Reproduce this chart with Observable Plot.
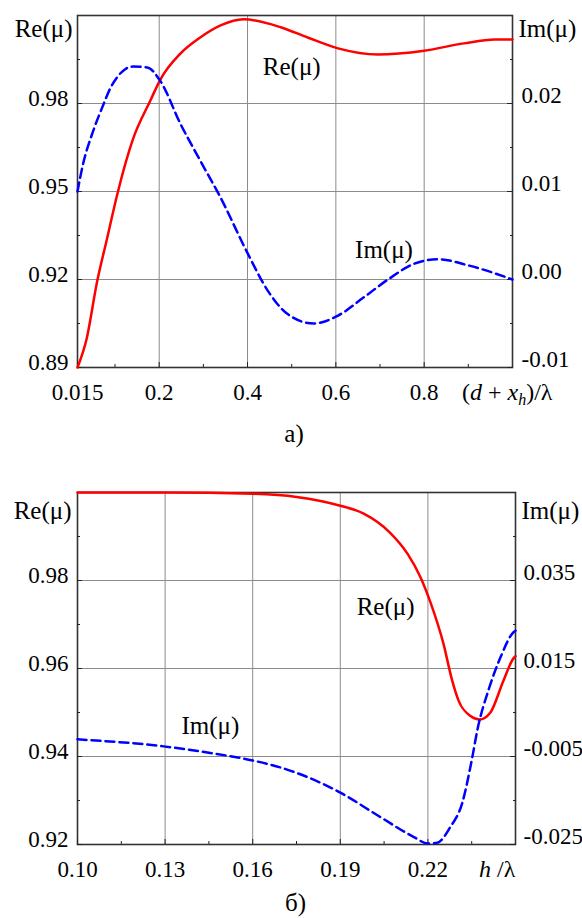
<!DOCTYPE html>
<html><head><meta charset="utf-8">
<script src="https://cdn.jsdelivr.net/npm/d3@7"></script>
<script src="https://cdn.jsdelivr.net/npm/@observablehq/plot@0.6"></script>
<style>
body{margin:0;background:#fff;}
#chart{width:582px;}
svg{display:block;}
svg text{font-family:"Liberation Serif", serif !important;}
</style></head><body><div id="chart"></div>
<script>
// ---------- Panel а) ----------
const aReX = [0.015, 0.036, 0.059, 0.082, 0.105, 0.141, 0.18, 0.202, 0.248, 0.293, 0.339, 0.391, 0.475, 0.536, 0.605, 0.695, 0.80, 0.89, 0.96, 1.0];
const aReY = [0.890, 0.900, 0.919, 0.934, 0.949, 0.968, 0.981, 0.988, 0.997, 1.0025, 1.0066, 1.0087, 1.006, 1.0025, 0.9988, 0.9967, 0.998, 1.0005, 1.0018, 1.0018];
const aImX = [0.015, 0.027, 0.05, 0.073, 0.089, 0.105, 0.123, 0.141, 0.173, 0.202, 0.248, 0.293, 0.339, 0.40, 0.445, 0.49, 0.55, 0.605, 0.664, 0.718, 0.778, 0.832, 0.90, 1.0];
const aImY = [0.0100, 0.0130, 0.0168, 0.0198, 0.0217, 0.0230, 0.0239, 0.0242, 0.0241, 0.0226, 0.0177, 0.0135, 0.0093, 0.0030, -0.0012, -0.0039, -0.0050, -0.0041, -0.0020, 0.0000, 0.0018, 0.0023, 0.0016, 0.0000];
const aXTicks = [0.015, 0.2, 0.4, 0.6, 0.8];
const aXTickLabels = ["0.015", "0.2", "0.4", "0.6", "0.8"];
const aXMinor = [0.1, 0.3, 0.5, 0.7, 0.9];
const aReTicks = [0.89, 0.92, 0.95, 0.98];
const aReTickLabels = ["0.89", "0.92", "0.95", "0.98"];
const aReMinor = [0.905, 0.935, 0.965, 0.995];
const aImTicks = [-0.01, 0.0, 0.01, 0.02];
const aImTickLabels = ["-0.01", "0.00", "0.01", "0.02"];
const aImMinor = [-0.005, 0.005, 0.015, 0.025];
const aLabelText = ["Re(μ)", "Im(μ)"];
const aLabelX = [0.5, 0.709];
const aLabelY = [0.9923, 0.930];

// ---------- Panel б) ----------
const bReX = [0.100, 0.130, 0.160, 0.175, 0.190, 0.198, 0.207, 0.213, 0.2175, 0.221, 0.2253, 0.2283, 0.2305, 0.2346, 0.2377, 0.2414, 0.2459, 0.2493, 0.2500];
const bReY = [1.0000, 1.0000, 0.9997, 0.9990, 0.9970, 0.9952, 0.9909, 0.9861, 0.9807, 0.9748, 0.9657, 0.9573, 0.9527, 0.9492, 0.9484, 0.9500, 0.9573, 0.9623, 0.9628];
const bImX = [0.100, 0.1295, 0.1445, 0.160, 0.1705, 0.190, 0.2038, 0.2152, 0.220, 0.2232, 0.2277, 0.2317, 0.2352, 0.2369, 0.2409, 0.2449, 0.2494, 0.2500];
const bImY = [-0.0011, -0.0027, -0.0041, -0.0059, -0.0077, -0.0132, -0.0188, -0.0233, -0.0248, -0.0246, -0.0210, -0.0157, -0.0052, 0.0009, 0.0104, 0.0176, 0.0233, 0.0236];
const bXTicks = [0.10, 0.13, 0.16, 0.19, 0.22];
const bXTickLabels = ["0.10", "0.13", "0.16", "0.19", "0.22"];
const bXMinor = [0.115, 0.145, 0.175, 0.205, 0.235];
const bReTicks = [0.92, 0.94, 0.96, 0.98];
const bReTickLabels = ["0.92", "0.94", "0.96", "0.98"];
const bReMinor = [0.93, 0.95, 0.97, 0.99];
const bImTicks = [-0.025, -0.005, 0.015, 0.035];
const bImTickLabels = ["-0.025", "-0.005", "0.015", "0.035"];
const bImMinor = [-0.015, 0.005, 0.025, 0.045];
const bLabelText = ["Re(μ)", "Im(μ)"];
const bLabelX = [0.2055, 0.1455];
const bLabelY = [0.9739, 0.947];

const FONT = "Liberation Serif";
const W = 582;

function panel(cfg) {
  const reD = cfg.reDomain, imD = cfg.imDomain;
  const toRe = v => reD[0] + (v - imD[0]) / (imD[1] - imD[0]) * (reD[1] - reD[0]);
  const reRows = cfg.reX.map((x, i) => ({x, y: cfg.reY[i]}));
  const imRows = cfg.imX.map((x, i) => ({x, y: toRe(cfg.imY[i])}));
  const imPos = cfg.imTicks.map(toRe);
  const imMinorPos = cfg.imMinor.map(toRe);
  const labelRows = cfg.labelText.map((t, i) => ({t, x: cfg.labelX[i], y: cfg.labelY[i]}));
  const fmt = (ticks, labels) => d => labels[ticks.indexOf(d)];
  const none = () => "";
  const tickStroke = "#222";
  const svg = Plot.plot({
    width: W, height: cfg.height,
    marginLeft: cfg.marginLeft, marginRight: cfg.marginRight,
    marginTop: cfg.marginTop, marginBottom: cfg.marginBottom,
    x: {domain: cfg.xDomain},
    y: {domain: reD},
    style: {fontFamily: FONT, fontSize: "23px", color: "black", background: "white", overflow: "visible"},
    marks: [
      Plot.gridX(cfg.xTicks, {stroke: "#8c8c8c", strokeOpacity: 1, strokeWidth: 1}),
      Plot.gridY(cfg.reTicks, {stroke: "#8c8c8c", strokeOpacity: 1, strokeWidth: 1}),
      Plot.frame({stroke: "#333", strokeWidth: 1.6}),
      // ticks
      Plot.axisX(cfg.xTicks, {anchor: "bottom", tickSize: -5, tickFormat: none, label: null, stroke: tickStroke}),
      Plot.axisX(cfg.xMinor, {anchor: "bottom", tickSize: -3, tickFormat: none, label: null, stroke: tickStroke}),
      Plot.axisY(cfg.reTicks, {anchor: "left", tickSize: -5, tickFormat: none, label: null, stroke: tickStroke}),
      Plot.axisY(cfg.reMinor, {anchor: "left", tickSize: -3, tickFormat: none, label: null, stroke: tickStroke}),
      Plot.axisY(imPos, {anchor: "right", tickSize: -6, tickFormat: none, label: null, stroke: tickStroke}),
      Plot.axisY(imMinorPos, {anchor: "right", tickSize: -3, tickFormat: none, label: null, stroke: tickStroke}),
      // tick labels
      Plot.axisX(cfg.xTicks, {anchor: "bottom", tickSize: 0, tickPadding: 16, tickFormat: fmt(cfg.xTicks, cfg.xTickLabels), label: null}),
      Plot.axisY(cfg.reTicks, {anchor: "left", tickSize: 0, tickPadding: 9, dy: -5, tickFormat: fmt(cfg.reTicks, cfg.reTickLabels), label: null}),
      Plot.axisY(imPos, {anchor: "right", tickSize: 0, tickPadding: cfg.rightPad, dy: -8, tickFormat: fmt(imPos, cfg.imTickLabels), label: null}),
      // data
      Plot.line(reRows, {x: "x", y: "y", stroke: "#ff0000", strokeWidth: 2.5, curve: "monotone-x"}),
      Plot.line(imRows, {x: "x", y: "y", stroke: "#0000ff", strokeWidth: 2.5, strokeDasharray: "9,5", curve: "monotone-x"}),
      // inline labels
      Plot.text(labelRows, {x: "x", y: "y", text: "t", fontSize: 25, lineAnchor: "middle"}),
      // axis titles
      Plot.text(["Re(μ)"], {frameAnchor: "top-left", text: d => d, textAnchor: "end", lineAnchor: "middle", dx: cfg.reTitleDx, dy: cfg.titleDy, fontSize: 25}),
      Plot.text(["Im(μ)"], {frameAnchor: "top-right", text: d => d, textAnchor: "start", lineAnchor: "middle", dx: 6, dy: cfg.titleDy, fontSize: 25}),
      // caption
      Plot.text([cfg.caption], {frameAnchor: "bottom", text: d => d, lineAnchor: "middle", dy: cfg.captionDy, dx: -1, fontSize: 25})
    ]
  });
  // x-axis title with italics/subscript
  const s = d3.select(svg);
  const fr = W - cfg.marginRight, fb = cfg.height - cfg.marginBottom;
  const t = s.append("text")
    .attr("x", fr + cfg.xTitleDx).attr("y", fb + 33)
    .attr("text-anchor", "start")
    .attr("font-size", 24).attr("font-family", FONT).attr("fill", "black")
    .style("white-space", "pre");
  cfg.xTitle.forEach(p => {
    const ts = t.append("tspan").text(p.t);
    if (p.i) ts.attr("font-style", "italic");
    if (p.sub) ts.attr("font-size", 16).attr("dy", 5);
    if (p.up) ts.attr("dy", -5);
  });
  return svg;
}

const chart = document.getElementById("chart");
chart.appendChild(panel({
  height: 450, marginLeft: 77, marginRight: 70, marginTop: 15, marginBottom: 83,
  xDomain: [0.015, 1.0], reDomain: [0.89, 1.01], imDomain: [-0.01, 0.03],
  reX: aReX, reY: aReY, imX: aImX, imY: aImY,
  xTicks: aXTicks, xTickLabels: aXTickLabels, xMinor: aXMinor,
  reTicks: aReTicks, reTickLabels: aReTickLabels, reMinor: aReMinor,
  imTicks: aImTicks, imTickLabels: aImTickLabels, imMinor: aImMinor,
  labelText: aLabelText, labelX: aLabelX, labelY: aLabelY,
  rightPad: 9, reTitleDx: -5, titleDy: 13,
  caption: "а)", captionDy: 66,
  xTitleDx: -50,
  xTitle: [{t: "("}, {t: "d", i: true}, {t: " + "}, {t: "x", i: true}, {t: "h", i: true, sub: true}, {t: ")/λ", up: true}]
}));
chart.appendChild(panel({
  height: 468, marginLeft: 77, marginRight: 67, marginTop: 42, marginBottom: 74,
  xDomain: [0.10, 0.25], reDomain: [0.92, 1.00], imDomain: [-0.025, 0.055],
  reX: bReX, reY: bReY, imX: bImX, imY: bImY,
  xTicks: bXTicks, xTickLabels: bXTickLabels, xMinor: bXMinor,
  reTicks: bReTicks, reTickLabels: bReTickLabels, reMinor: bReMinor,
  imTicks: bImTicks, imTickLabels: bImTickLabels, imMinor: bImMinor,
  labelText: bLabelText, labelX: bLabelX, labelY: bLabelY,
  rightPad: 8, reTitleDx: -6, titleDy: 18,
  caption: "б)", captionDy: 58,
  xTitleDx: -36,
  xTitle: [{t: "h", i: true}, {t: " /λ"}]
}));
</script></body></html>
